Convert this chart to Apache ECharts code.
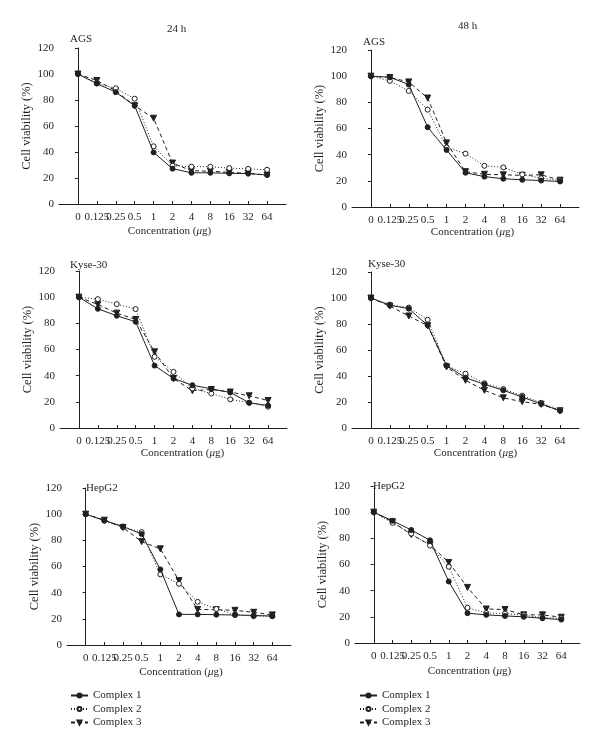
<!DOCTYPE html>
<html>
<head>
<meta charset="utf-8">
<script src="https://cdn.jsdelivr.net/npm/echarts@6/dist/echarts.min.js"></script>
<style>
html,body{margin:0;padding:0;background:#fff;}
#chart{width:600px;height:750px;}
</style>
</head>
<body>
<div id="chart"></div>
<script>
// Categories (concentration, µg)
const concentrations = ['0', '0.125', '0.25', '0.5', '1', '2', '4', '8', '16', '32', '64'];
const seriesNames = ['Complex 1', 'Complex 2', 'Complex 3'];
const columnTitles = ['24 h', '48 h'];
const cellLines = ['AGS', 'AGS', 'Kyse-30', 'Kyse-30', 'HepG2', 'HepG2'];

// Cell viability (%) values
const ags24_c1 = [100, 92.6, 86, 75.6, 39.7, 27.2, 24, 24, 23.6, 23.4, 22.3];
const ags24_c2 = [100, 93, 89, 81, 44.4, 29.5, 28.7, 28.7, 27.6, 27, 26.3];
const ags24_c3 = [100, 95, 87, 75.6, 66, 31.5, 25.6, 25.2, 24.3, 23.6, 22.3];

const ags48_c1 = [100, 99.2, 93.6, 61, 43.6, 26.2, 23.2, 21.6, 20.8, 20.2, 19.5];
const ags48_c2 = [100, 96.4, 88.7, 74.4, 45.5, 40.8, 31.5, 30.3, 24.9, 22, 20.3];
const ags48_c3 = [100, 99, 95.6, 83.3, 49, 27, 25, 24.6, 24.2, 24.6, 20.5];

const kyse24_c1 = [100, 91.1, 85.8, 81.2, 47.7, 37.8, 32.7, 29.9, 27.2, 19.3, 17.2];
const kyse24_c2 = [100, 98.5, 94.7, 90.9, 54.4, 42.9, 30.2, 26.3, 21.9, 19.3, 16.3];
const kyse24_c3 = [100, 94.4, 87.8, 83, 58.2, 37.8, 28.5, 29.4, 27.5, 24.6, 21];

const kyse48_c1 = [100, 94.4, 91.8, 79, 48, 38.7, 33.6, 29, 23.8, 18.5, 13.2];
const kyse48_c2 = [100, 94.9, 92.6, 83.3, 48, 41.8, 34.4, 30, 24.9, 19.4, 13.8];
const kyse48_c3 = [100, 93.8, 86.2, 78.7, 47, 36.7, 29, 23.2, 20.2, 18.2, 13.2];

const hep24_c1 = [100, 95.2, 90.6, 84.8, 57.8, 23.4, 23.4, 23.2, 22.9, 22.6, 22.1];
const hep24_c2 = [100, 95, 90, 86.3, 54, 46.8, 33, 27.5, 23.4, 22, 22];
const hep24_c3 = [100, 95.4, 89.8, 79, 73.5, 49.2, 27.2, 27, 26.5, 25, 23];

const hep48_c1 = [100, 93.4, 86.4, 78.5, 47, 22.8, 21.5, 20.7, 20, 18.9, 17.9];
const hep48_c2 = [100, 91.8, 83.6, 74.4, 58.3, 26.9, 23, 22.5, 21.2, 19.4, 18.9];
const hep48_c3 = [100, 92.6, 82.9, 75, 61.6, 42.5, 26, 25.6, 21.5, 21.5, 19.7];

const panelData = [
  [ags24_c1, ags24_c2, ags24_c3],
  [ags48_c1, ags48_c2, ags48_c3],
  [kyse24_c1, kyse24_c2, kyse24_c3],
  [kyse48_c1, kyse48_c2, kyse48_c3],
  [hep24_c1, hep24_c2, hep24_c3],
  [hep48_c1, hep48_c2, hep48_c3]
];

// Layout (pixels)
const FONT = '"Liberation Serif", "DejaVu Serif", serif';
const INK = '#231f20';
const grids = [
  {left: 59, top: 48, width: 227, height: 156, xGap: 22, xPad: -6},
  {left: 352, top: 50, width: 227, height: 157, xGap: 20, xPad: 14},
  {left: 60, top: 271, width: 227, height: 157, xGap: 19, xPad: 18},
  {left: 352, top: 272, width: 227, height: 156, xGap: 19, xPad: 20},
  {left: 67, top: 488, width: 224, height: 157, xGap: 22, xPad: 4},
  {left: 355, top: 486, width: 225, height: 157, xGap: 23, xPad: 4}
];
const labelPos = [[70, 34], [363, 37], [70, 260], [368, 259], [86, 483], [373, 481]];

const tickIdx = concentrations.map((c, i) => i);
const styles = [
  {symbol: 'circle', symbolSize: 5, rotate: 0, fill: INK, line: 'solid'},
  {symbol: 'circle', symbolSize: 5, rotate: 0, fill: '#ffffff', line: [1, 2]},
  {symbol: 'triangle', symbolSize: 6, rotate: 180, fill: INK, line: [4, 3]}
];

const xAxes = [], yAxes = [], series = [], gridOpts = [];
grids.forEach((g, p) => {
  gridOpts.push({left: g.left, top: g.top, width: g.width, height: g.height, containLabel: false});
  xAxes.push({
    type: 'value', gridIndex: p, min: -1, max: 11, interval: 1,
    axisLine: {show: true, lineStyle: {color: INK, width: 1}},
    axisTick: {show: true, inside: true, length: 3, customValues: tickIdx, lineStyle: {color: INK}},
    axisLabel: {
      customValues: tickIdx, margin: 8, color: INK, fontFamily: FONT, fontSize: 11,
      formatter: v => concentrations[Math.round(v)] ?? ''
    },
    splitLine: {show: false},
    name: 'Concentration ({i|μ}g)', nameLocation: 'middle', nameGap: g.xGap,
    nameTextStyle: {
      color: INK, fontFamily: FONT, fontSize: 11, padding: [0, 0, 0, g.xPad],
      rich: {i: {fontStyle: 'italic', fontFamily: FONT, fontSize: 11, color: INK}}
    }
  });
  yAxes.push({
    type: 'value', gridIndex: p, min: 0, max: 120, interval: 20,
    axisLine: {show: true, lineStyle: {color: INK, width: 1}},
    axisTick: {show: true, inside: false, length: 3, lineStyle: {color: INK}},
    axisLabel: {margin: 5, color: INK, fontFamily: FONT, fontSize: 11},
    splitLine: {show: false},
    name: 'Cell viability (%)', nameLocation: 'middle', nameGap: 25,
    nameTextStyle: {color: INK, fontFamily: FONT, fontSize: 12.5}
  });
  panelData[p].forEach((vals, s) => {
    const st = styles[s];
    series.push({
      type: 'line', name: seriesNames[s], xAxisIndex: p, yAxisIndex: p,
      data: vals.map((v, i) => [i, v]),
      symbol: st.symbol, symbolSize: st.symbolSize, symbolRotate: st.rotate,
      showAllSymbol: true,
      lineStyle: {color: INK, width: 1, type: st.line},
      itemStyle: {color: st.fill, borderColor: INK, borderWidth: 1},
      emphasis: {disabled: true},
      animation: false, z: 3 - s
    });
  });
});

const graphics = [];
labelPos.forEach((pos, p) => {
  graphics.push({type: 'text', left: pos[0], top: pos[1],
    style: {text: cellLines[p], font: '11px ' + FONT, fill: INK}});
});
graphics.push({type: 'text', left: 167, top: 24, style: {text: columnTitles[0], font: '11px ' + FONT, fill: INK, textAlign: 'center'}});
graphics.push({type: 'text', left: 458, top: 21, style: {text: columnTitles[1], font: '11px ' + FONT, fill: INK, textAlign: 'center'}});

const legendBase = {
  orient: 'vertical', top: 690, padding: 0, itemWidth: 17, itemHeight: 5, itemGap: 2.5,
  textStyle: {color: INK, fontFamily: FONT, fontSize: 11},
  data: seriesNames, selectedMode: false
};

const chart = echarts.init(document.getElementById('chart'), null, {renderer: 'canvas'});
chart.setOption({
  backgroundColor: '#ffffff',
  animation: false,
  grid: gridOpts,
  xAxis: xAxes,
  yAxis: yAxes,
  series: series,
  legend: [
    Object.assign({}, legendBase, {left: 70}),
    Object.assign({}, legendBase, {left: 359})
  ],
  graphic: graphics
});
</script>
</body>
</html>
